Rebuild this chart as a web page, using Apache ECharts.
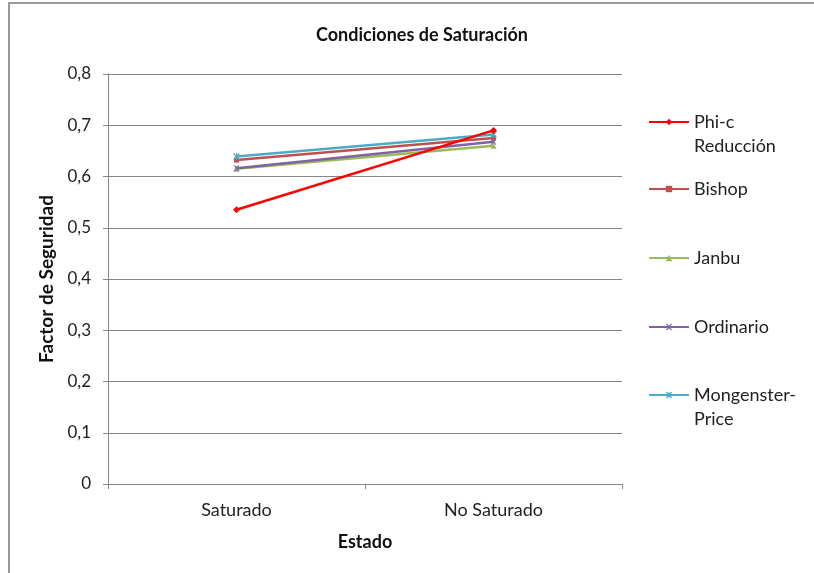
<!DOCTYPE html>
<html>
<head>
<meta charset="utf-8">
<script src="https://cdn.jsdelivr.net/npm/echarts@6/dist/echarts.min.js"></script>
<style>
  html, body { margin: 0; padding: 0; background: #fff; }
  #chart { width: 814px; height: 573px; }
</style>
</head>
<body>
<div id="chart"></div>
<script>
// Factor of safety by saturation state, per calculation method
const estados = ['Saturado', 'No Saturado'];
const phiC = [0.535, 0.69];
const bishop = [0.632, 0.675];
const janbu = [0.615, 0.66];
const ordinario = [0.616, 0.668];
const mongenster = [0.639, 0.682];
const yTicks = [0, 0.1, 0.2, 0.3, 0.4, 0.5, 0.6, 0.7, 0.8];

const FONT = 'Lato';
const AXIS_GRAY = '#868686';

const xShape = 'path://M0,0L2,0L5,3L8,0L10,0L6.5,5L10,10L8,10L5,7L2,10L0,10L3.5,5Z';
const starShape = 'path://M0,1L1.5,0L5,3.5L8.5,0L10,1L6.5,5L10,9L8.5,10L5,6.5L1.5,10L0,9L3.5,5ZM4.3,0L5.7,0L5.7,10L4.3,10Z';

const seriesDefs = [
  { name: 'Phi-c Reducción', label: ' \nPhi-c\nReducción', data: phiC, color: '#FF0000', symbol: 'diamond', size: 7, legendTop: 86 },
  { name: 'Bishop', label: 'Bishop', data: bishop, color: '#C0504D', symbol: 'rect', size: 5, legendTop: 177 },
  { name: 'Janbu', label: 'Janbu', data: janbu, color: '#9BBB59', symbol: 'triangle', size: 6, legendTop: 246 },
  { name: 'Ordinario', label: 'Ordinario', data: ordinario, color: '#8064A2', symbol: xShape, size: 6, legendTop: 315 },
  { name: 'Mongenster-Price', label: ' \nMongenster-\nPrice', data: mongenster, color: '#4BACC6', symbol: starShape, size: 7, legendTop: 359 }
];

const legends = seriesDefs.map(s => ({
  data: [s.name],
  orient: 'vertical',
  left: 648,
  top: s.legendTop,
  itemWidth: 40,
  itemHeight: 8,
  itemGap: 5,
  padding: 0,
  selectedMode: false,
  formatter: () => s.label,
  textStyle: { fontFamily: FONT, fontSize: 18, color: '#222', lineHeight: 24 }
}));

const chart = echarts.init(document.getElementById('chart'), null, { renderer: 'canvas' });
chart.setOption({
  animation: false,
  backgroundColor: '#fff',
  title: {
    text: 'Condiciones de Saturación',
    left: 417,
    textAlign: 'center',
    top: 21,
    textStyle: { fontFamily: FONT, fontSize: 18, fontWeight: 'bold', color: '#111' }
  },
  graphic: [{
    type: 'rect',
    shape: { x: 9, y: 3, width: 900, height: 700 },
    style: { fill: 'none', stroke: '#9a9a9a', lineWidth: 2 },
    silent: true
  }],
  legend: legends,
  grid: { left: 108, right: 192, top: 74, bottom: 89, containLabel: false },
  xAxis: {
    type: 'category',
    data: estados,
    boundaryGap: true,
    name: 'Estado',
    nameLocation: 'middle',
    nameGap: 49,
    nameTextStyle: { fontFamily: FONT, fontSize: 18, fontWeight: 'bold', color: '#111' },
    axisLine: { lineStyle: { color: AXIS_GRAY, width: 1 } },
    axisTick: { show: true, length: 5, alignWithLabel: false, lineStyle: { color: AXIS_GRAY } },
    axisLabel: { fontFamily: FONT, fontSize: 18, color: '#222', margin: 17 },
    splitLine: { show: false }
  },
  yAxis: {
    type: 'value',
    min: yTicks[0],
    max: yTicks[yTicks.length - 1],
    interval: 0.1,
    name: 'Factor de Seguridad',
    nameLocation: 'middle',
    nameGap: 52,
    nameRotate: 90,
    nameTextStyle: { fontFamily: FONT, fontSize: 19, fontWeight: 'bold', color: '#111' },
    axisLine: { show: true, lineStyle: { color: AXIS_GRAY, width: 1 } },
    axisTick: { show: true, length: 5, lineStyle: { color: AXIS_GRAY } },
    axisLabel: {
      fontFamily: FONT, fontSize: 17, color: '#222', margin: 17,
      formatter: v => (Math.round(v * 10) / 10).toString().replace('.', ',')
    },
    splitLine: { show: true, lineStyle: { color: AXIS_GRAY, width: 1 } }
  },
  series: seriesDefs.map(s => ({
    name: s.name,
    type: 'line',
    data: s.data,
    color: s.color,
    symbol: s.symbol,
    symbolSize: s.size,
    showSymbol: true,
    lineStyle: { color: s.color, width: 2.5 },
    itemStyle: { color: s.color },
    z: s.name === 'Phi-c Reducción' ? 3 : 2
  }))
});
</script>
</body>
</html>
